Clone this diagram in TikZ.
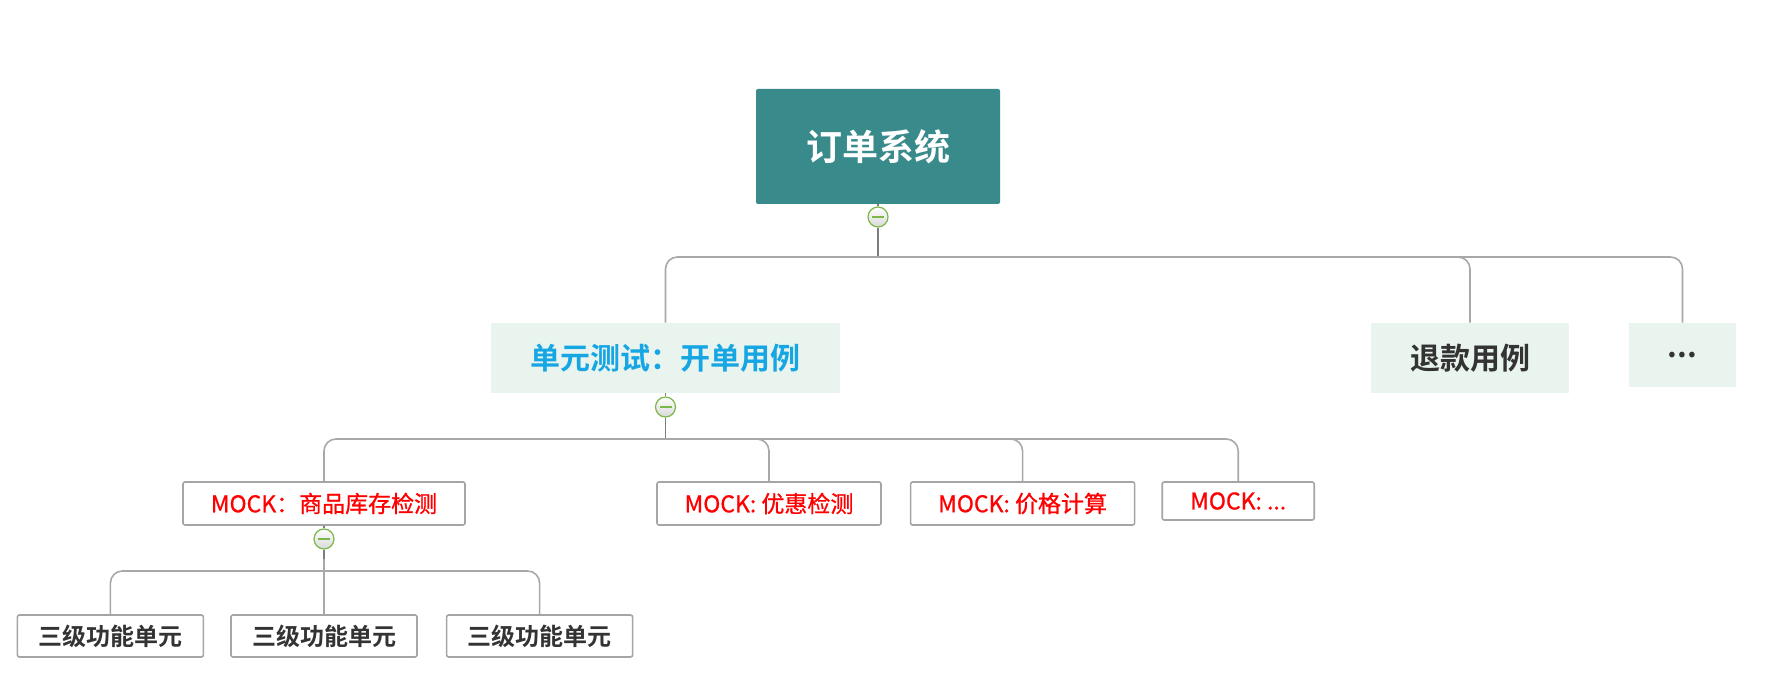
\documentclass[tikz,border=0pt]{standalone}
\usepackage{fontspec}
\setmainfont{Noto Sans CJK SC}[BoldFont={Noto Sans CJK SC Bold}]
\newfontfamily\mockfont{Noto Sans CJK SC}[FakeBold=0.9]
\usepackage{tikz}
\usetikzlibrary{positioning}
\definecolor{rootTeal}{RGB}{56,138,139}
\definecolor{topicFill}{RGB}{234,244,238}
\definecolor{topicBlue}{RGB}{22,166,228}
\definecolor{textDark}{RGB}{51,51,51}
\definecolor{boxGray}{RGB}{165,165,165}
\definecolor{lineGray}{RGB}{168,168,168}
\definecolor{trunkGray}{RGB}{125,125,125}
\definecolor{tgGreen}{RGB}{122,184,72}
\tikzset{
  rootbox/.style={
    rectangle, rounded corners=1pt, fill=rootTeal, text=white,
    minimum width=122pt, minimum height=57.5pt, inner sep=0pt,
    align=center, font=\fontsize{18}{20}\selectfont\bfseries
  },
  topic/.style={
    rectangle, fill=topicFill, text=textDark, inner sep=0pt,
    minimum height=35pt, align=center,
    font=\fontsize{15}{18}\selectfont\bfseries
  },
  mockbox/.style={
    rectangle, rounded corners=1pt, draw=boxGray, line width=0.8pt,
    fill=white, text=red, inner sep=0pt, minimum height=21.5pt,
    align=center, font=\mockfont\fontsize{11.5}{14}\selectfont
  },
  unitbox/.style={
    rectangle, rounded corners=1pt, draw=boxGray, line width=0.8pt,
    fill=white, text=textDark, inner sep=0pt,
    minimum width=93pt, minimum height=21pt,
    align=center, font=\fontsize{12}{14}\selectfont\bfseries
  },
  toggle/.style={
    circle, draw=tgGreen, line width=0.6pt, inner sep=0pt,
    minimum size=10pt, top color=white, bottom color=black!15,
    path picture={
      \draw[tgGreen, line width=1pt]
        ([xshift=-3pt]path picture bounding box.center) --
        ([xshift=3pt]path picture bounding box.center);
    }
  },
  link/.style={draw=lineGray, line width=0.8pt, rounded corners=6pt},
  trunk/.style={draw=trunkGray, line width=0.8pt}
}
\begin{document}
\begin{tikzpicture}[x=0.5pt, y=-0.5pt]
  \useasboundingbox (0,0) rectangle (1776,688);
  % root
  \node[rootbox] (root) at (878,146.5) {订单系统};
  \node[toggle] (tgRoot) at (878,217) {};
  \coordinate (fkRoot) at (878,257);
  % first level
  \node[topic, text=topicBlue, minimum width=174.5pt] (ut) at (665.5,358)
    {单元测试：开单用例};
  \node[topic, minimum width=99pt] (refund) at (1470,358) {退款用例};
  \node[topic, minimum width=53.5pt, minimum height=32pt] (more) at (1682.5,355) {...};
  \node[toggle] (tgUt) at (665.5,407) {};
  \coordinate (fkUt) at (665.5,439);
  % mock level
  \node[mockbox, minimum width=141pt] (mockStock) at (324,503.5) {MOCK：商品库存检测};
  \node[mockbox, minimum width=112pt] (mockPromo) at (769,503.5) {MOCK: 优惠检测};
  \node[mockbox, minimum width=112pt, right=14pt of mockPromo] (mockPrice) {MOCK: 价格计算};
  \node[mockbox, minimum width=76pt, minimum height=19pt, anchor=north west]
    (mockMore) at ([xshift=13pt]mockPrice.north east) {MOCK: ...};
  \node[toggle] (tgStock) at (324,539) {};
  \coordinate (fkStock) at (324,571);
  % third level
  \node[unitbox] (unitB) at (324,636) {三级功能单元};
  \node[unitbox, left=13pt of unitB] (unitA) {三级功能单元};
  \node[unitbox, right=14pt of unitB] (unitC) {三级功能单元};
  % connectors
  \draw[trunk] (root.south) -- (tgRoot.north);
  \draw[trunk] (tgRoot.south) -- (fkRoot);
  \foreach \kid in {ut,refund,more}
    \draw[link] (fkRoot) -| (\kid.north);
  \draw[trunk] (ut.south) -- (tgUt.north);
  \draw[trunk] (tgUt.south) -- (fkUt);
  \foreach \kid in {mockStock,mockPromo,mockPrice,mockMore}
    \draw[link] (fkUt) -| (\kid.north);
  \draw[trunk] (mockStock.south) -- (tgStock.north);
  \draw[trunk] (tgStock.south) -- (fkStock);
  \foreach \kid in {unitA,unitB,unitC}
    \draw[link] (fkStock) -| (\kid.north);
\end{tikzpicture}
\end{document}
